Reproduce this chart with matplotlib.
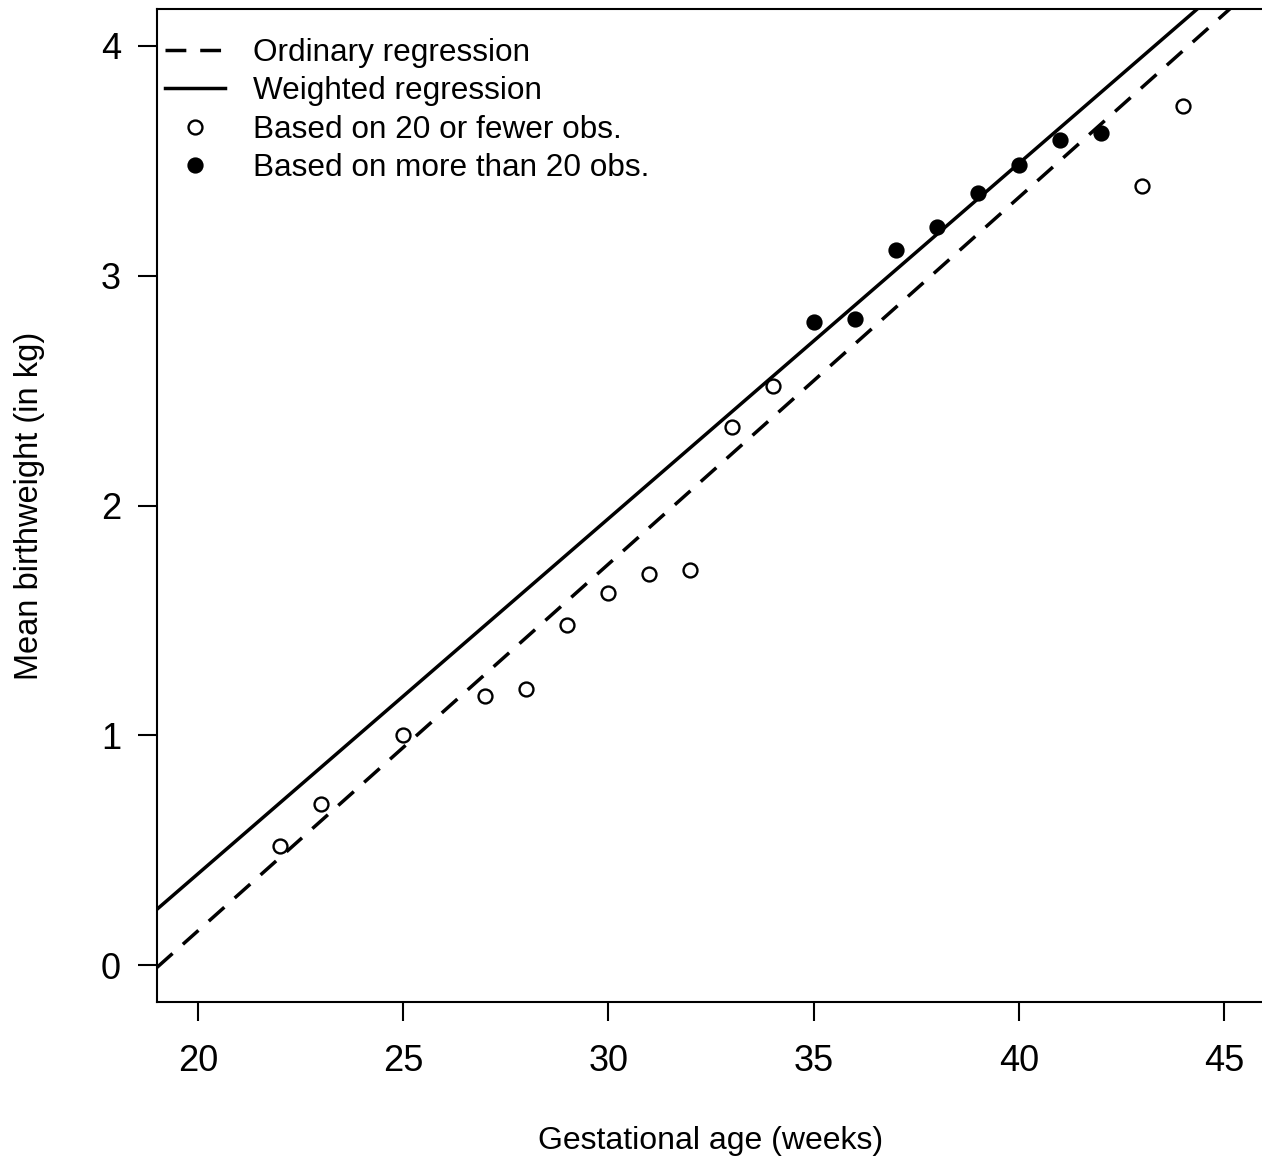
import matplotlib
matplotlib.use("Agg")
import matplotlib.pyplot as plt
import numpy as np

plt.rcParams['font.family'] = ['Liberation Sans', 'DejaVu Sans']

# Data
weeks_few = [22, 23, 25, 27, 28, 29, 30, 31, 32, 33, 34, 43, 44]
bw_few = [0.52, 0.70, 1.00, 1.17, 1.20, 1.48, 1.62, 1.70, 1.72, 2.34, 2.52, 3.39, 3.74]
weeks_many = [35, 36, 37, 38, 39, 40, 41, 42]
bw_many = [2.80, 2.81, 3.11, 3.21, 3.36, 3.48, 3.59, 3.62]

ols_coef = (-3.04, 0.1595)   # intercept, slope
wls_coef = (-2.692, 0.1545)

x_ticks = [20, 25, 30, 35, 40, 45]
y_ticks = [0, 1, 2, 3, 4]

W, H = 1262, 1156
fig = plt.figure(figsize=(W / 100, H / 100), dpi=100)
ax = fig.add_axes([157 / W, (H - 1002) / H, 1108 / W, 993 / H])
ax.set_xlim(19, 46)
ax.set_ylim(-0.16, 4.16)

xx = np.array([19, 46])
ax.plot(xx, ols_coef[0] + ols_coef[1] * xx, color='black', lw=2.5,
        dashes=(6.0, 4.0), label='Ordinary regression', clip_on=True)
ax.plot(xx, wls_coef[0] + wls_coef[1] * xx, color='black', lw=2.5,
        label='Weighted regression', clip_on=True)
ax.plot(weeks_few, bw_few, 'o', ms=10, mfc='white', mec='black', mew=1.7,
        linestyle='none', label='Based on 20 or fewer obs.')
ax.plot(weeks_many, bw_many, 'o', ms=10, mfc='black', mec='black', mew=1.7,
        linestyle='none', label='Based on more than 20 obs.')

for side in ['top', 'left', 'bottom', 'right']:
    ax.spines[side].set_linewidth(1.5)

ax.set_xticks(x_ticks)
ax.set_yticks(y_ticks)
ax.tick_params(axis='x', length=14, width=1.5, pad=16, labelsize=26, direction='out')
ax.tick_params(axis='y', length=14, width=1.5, pad=12, labelsize=26, direction='out')

ax.set_xlabel('Gestational age (weeks)', fontsize=23, labelpad=34)
ax.set_ylabel('Mean birthweight (in kg)', fontsize=23.5, labelpad=40)

leg = ax.legend(loc='upper left', bbox_to_anchor=(0.0072, 0.971), frameon=False,
                fontsize=22.7, handlelength=1.9, handletextpad=0.89,
                labelspacing=0.27, borderaxespad=0, borderpad=0)

fig.savefig('out.png', dpi=100)
